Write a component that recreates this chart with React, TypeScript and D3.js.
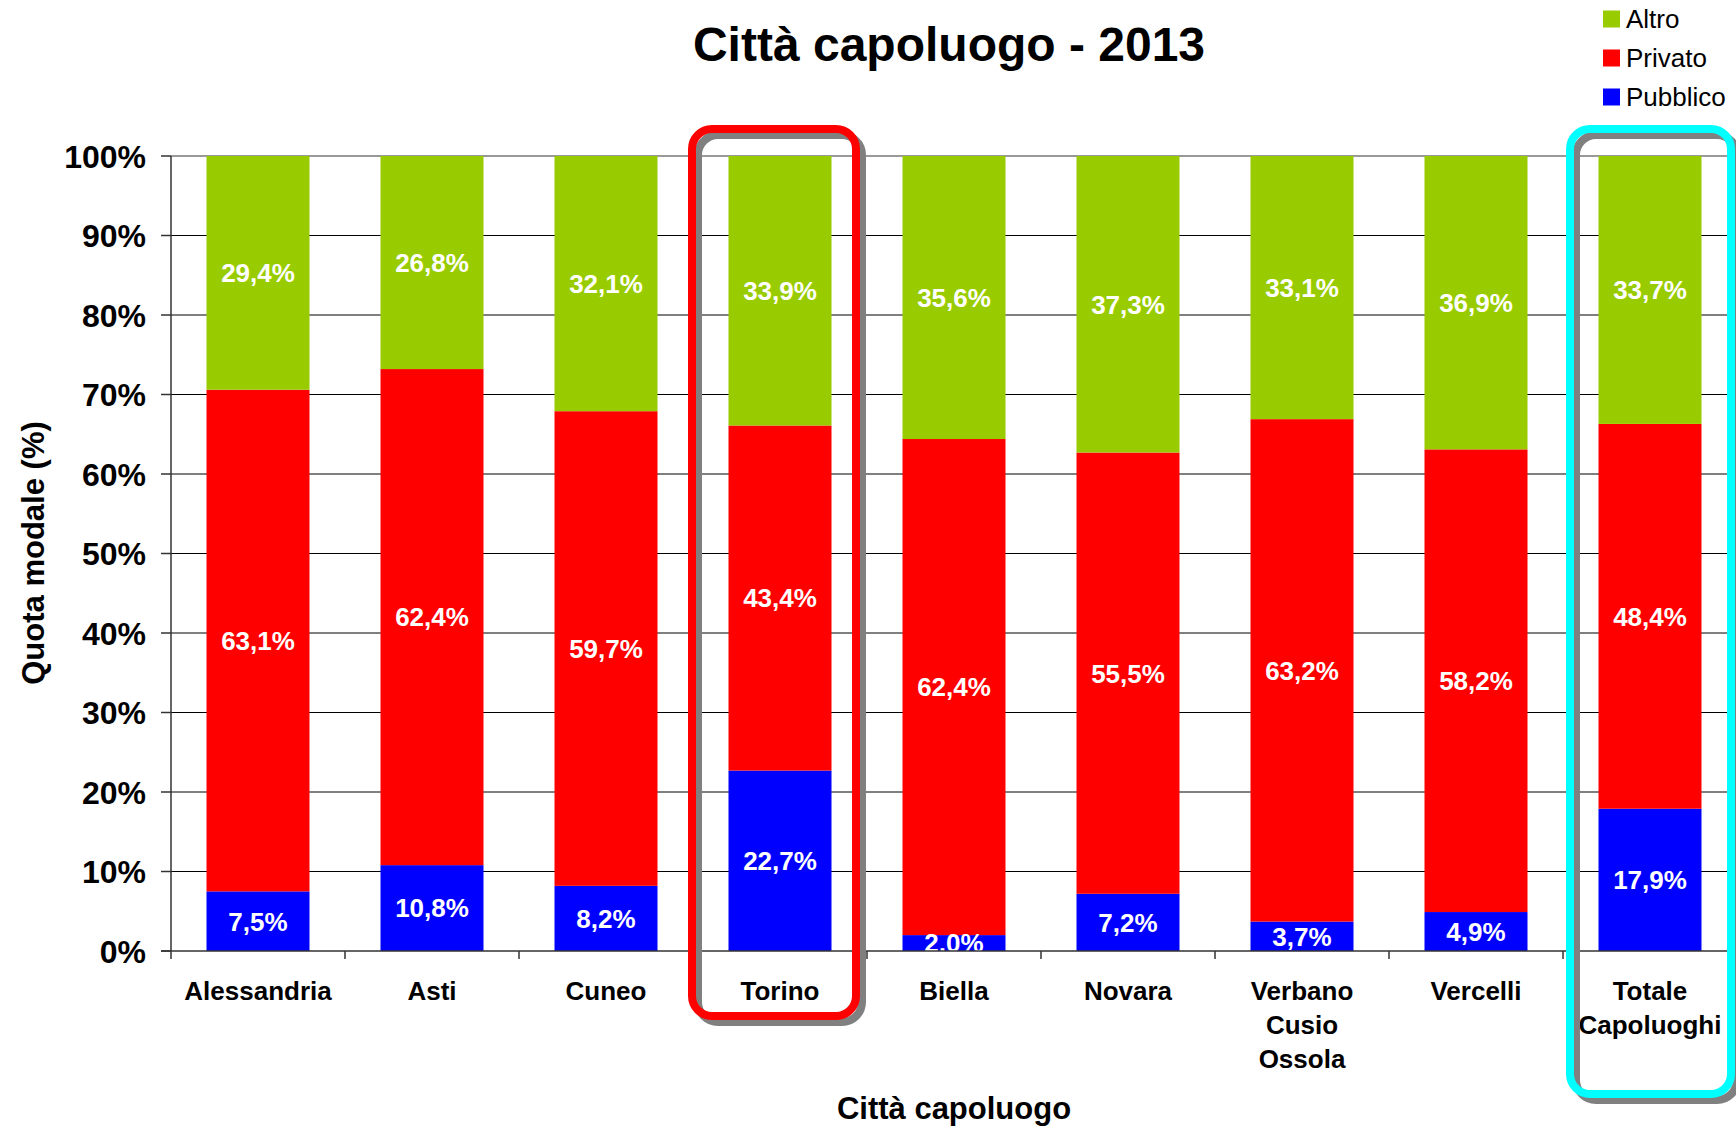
import React from "react";
import * as d3 from "d3";

const categories: string[][] = [
  ["Alessandria"],
  ["Asti"],
  ["Cuneo"],
  ["Torino"],
  ["Biella"],
  ["Novara"],
  ["Verbano", "Cusio", "Ossola"],
  ["Vercelli"],
  ["Totale", "Capoluoghi"],
];
const pubblico = [7.5, 10.8, 8.2, 22.7, 2.0, 7.2, 3.7, 4.9, 17.9];
const privato = [63.1, 62.4, 59.7, 43.4, 62.4, 55.5, 63.2, 58.2, 48.4];
const altro = [29.4, 26.8, 32.1, 33.9, 35.6, 37.3, 33.1, 36.9, 33.7];
const seriesNames = ["Pubblico", "Privato", "Altro"];
const seriesColors = ["#0000FF", "#FF0000", "#99CC00"];
const yTicks = [0, 10, 20, 30, 40, 50, 60, 70, 80, 90, 100];
const title = "Città capoluogo - 2013";
const xTitle = "Città capoluogo";
const yTitle = "Quota modale (%)";

const W = 1736;
const H = 1127;
const left = 171;
const right = 1737;
const top = 156;
const bottom = 951;
const FONT = "'Liberation Sans', Arial, Helvetica, sans-serif";

const fmt = (v: number) => v.toFixed(1).replace(".", ",") + "%";

export default function App() {
  const x = d3
    .scaleBand<number>()
    .domain(categories.map((_, i) => i))
    .range([left, right])
    .paddingInner(0.408)
    .paddingOuter(0.204);
  const step = x.step();
  const y = d3.scaleLinear().domain([0, 100]).range([bottom, top]);
  const seriesData = [pubblico, privato, altro];

  const stackRows = categories.map((_, i) => ({
    i,
    Pubblico: pubblico[i],
    Privato: privato[i],
    Altro: altro[i],
  }));
  const stack = d3.stack<any>().keys(seriesNames)(stackRows as any);

  const catLeft = (i: number) => left + i * step;
  const catCenter = (i: number) => (x(i) as number) + x.bandwidth() / 2;

  // highlight boxes (Torino idx 3, Totale idx 8)
  const boxes = [
    { idx: 3, color: "#FF0000", x0: 692, x1: 856, y0: 129, y1: 1016 },
    { idx: 8, color: "#00FFFF", x0: 1570, x1: 1731, y0: 129, y1: 1094 },
  ];

  return (
    <svg
      width={W}
      height={H}
      style={{ position: "absolute", left: 0, top: 0, background: "#fff" }}
      fontFamily={FONT}
    >
      <defs>
        <clipPath id="plotclip">
          <rect x={left} y={top} width={right - left} height={bottom - top} />
        </clipPath>
      </defs>
      <rect x={0} y={0} width={W} height={H} fill="#fff" />

      {/* gridlines */}
      {yTicks.map((t) =>
        t === 0 ? null : (
          <line
            key={"g" + t}
            x1={left}
            x2={right}
            y1={y(t)}
            y2={y(t)}
            stroke={t === 100 ? "#999999" : "#000000"}
            strokeWidth={t === 100 ? 2 : 1}
          />
        )
      )}

      {/* bars */}
      {stack.map((layer, si) =>
        layer.map((d, i) => (
          <rect
            key={"b" + si + "-" + i}
            x={x(i)}
            width={x.bandwidth()}
            y={y(d[1])}
            height={y(d[0]) - y(d[1])}
            fill={seriesColors[si]}
          />
        ))
      )}

      {/* data labels */}
      <g clipPath="url(#plotclip)">
        {stack.map((layer, si) =>
          layer.map((d, i) => (
            <text
              key={"l" + si + "-" + i}
              x={catCenter(i)}
              y={y((d[0] + d[1]) / 2)}
              dy="0.36em"
              textAnchor="middle"
              fontSize={26}
              fontWeight="bold"
              fill="#fff"
            >
              {fmt(seriesData[si][i])}
            </text>
          ))
        )}
      </g>

      {/* axes */}
      <line x1={left} x2={left} y1={top} y2={bottom} stroke="#333" strokeWidth={1.5} />
      <line x1={left - 10} x2={right} y1={bottom} y2={bottom} stroke="#333" strokeWidth={1.5} />
      {yTicks.map((t) => (
        <g key={"yt" + t}>
          <line x1={left - 10} x2={left} y1={y(t)} y2={y(t)} stroke="#333" strokeWidth={1.5} />
          <text
            x={left - 25}
            y={y(t)}
            dy="0.36em"
            textAnchor="end"
            fontSize={32}
            fontWeight="bold"
            fill="#000"
          >
            {t + "%"}
          </text>
        </g>
      ))}
      {categories.map((_, i) => (
        <line
          key={"xt" + i}
          x1={catLeft(i)}
          x2={catLeft(i)}
          y1={bottom}
          y2={bottom + 8}
          stroke="#333"
          strokeWidth={1.5}
        />
      ))}
      {categories.map((lines, i) => (
        <text
          key={"xl" + i}
          x={catCenter(i)}
          y={1000}
          textAnchor="middle"
          fontSize={26}
          fontWeight="bold"
          fill="#000"
        >
          {lines.map((ln, k) => (
            <tspan key={k} x={catCenter(i)} dy={k === 0 ? 0 : 34}>
              {ln}
            </tspan>
          ))}
        </text>
      ))}

      {/* highlight boxes */}
      {boxes.map((b) => (
        <g key={"box" + b.idx}>
          <rect
            x={b.x0 + 6}
            y={b.y0 + 6}
            width={b.x1 - b.x0}
            height={b.y1 - b.y0}
            rx={20}
            fill="none"
            stroke="#808080"
            strokeWidth={8}
          />
          <rect
            x={b.x0}
            y={b.y0}
            width={b.x1 - b.x0}
            height={b.y1 - b.y0}
            rx={20}
            fill="none"
            stroke={b.color}
            strokeWidth={8}
          />
        </g>
      ))}

      {/* titles */}
      <text x={949} y={61} textAnchor="middle" fontSize={48} fontWeight="bold" fill="#000">
        {title}
      </text>
      <text x={954} y={1119} textAnchor="middle" fontSize={31} fontWeight="bold" fill="#000">
        {xTitle}
      </text>
      <text
        transform={`translate(33,553) rotate(-90)`}
        textAnchor="middle"
        dy="0.36em"
        fontSize={31}
        fontWeight="bold"
        fill="#000"
      >
        {yTitle}
      </text>

      {/* legend */}
      {[2, 1, 0].map((si, k) => (
        <g key={"lg" + si}>
          <rect x={1603} y={10.5 + k * 39} width={17} height={17} fill={seriesColors[si]} />
          <text x={1626} y={28 + k * 39} fontSize={26} fill="#000">
            {seriesNames[si]}
          </text>
        </g>
      ))}
    </svg>
  );
}
